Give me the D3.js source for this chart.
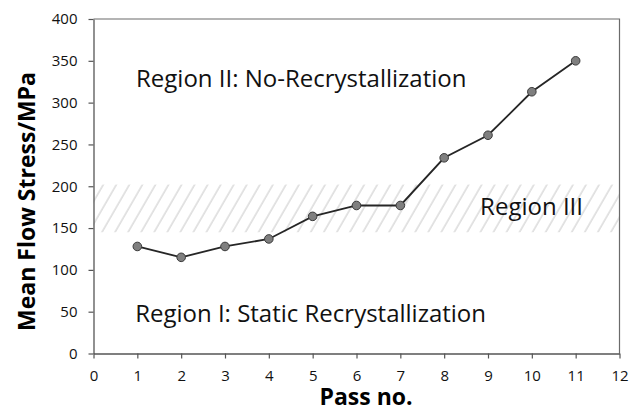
<!DOCTYPE html>
<html>
<head>
<meta charset="utf-8">
<script src="https://cdn.jsdelivr.net/npm/d3@7"></script>
<style>
  html, body { margin: 0; padding: 0; background: #fff; }
  svg text { font-family: "Open Sans", "Noto Sans", sans-serif; }
</style>
</head>
<body>
<svg id="chart" width="640" height="412"></svg>
<script>
// Mean flow stress per rolling pass
const passes = [1, 2, 3, 4, 5, 6, 7, 8, 9, 10, 11];
const stress = [128, 115, 128, 137, 164, 177, 177, 234, 261, 313, 350];

// Region III (partial recrystallization) stress band
const bandRange = [145, 202];

const xTicks = [0, 1, 2, 3, 4, 5, 6, 7, 8, 9, 10, 11, 12];
const yTicks = [0, 50, 100, 150, 200, 250, 300, 350, 400];

const regionLabels = [
  { text: "Region II: No-Recrystallization", pass: 0.97, value: 319 },
  { text: "Region III", pass: 8.82, value: 166 },
  { text: "Region I: Static Recrystallization", pass: 0.95, value: 38 }
];

const margin = { left: 93.5, right: 20.5, top: 19, bottom: 58.5 };
const W = 640, H = 412;
const svg = d3.select("#chart");

const x = d3.scaleLinear().domain([0, 12]).range([margin.left, W - margin.right]);
const y = d3.scaleLinear().domain([0, 400]).range([H - margin.bottom, margin.top]);

// diagonal hatch pattern for the band
const defs = svg.append("defs");
const pat = defs.append("pattern")
  .attr("id", "hatch")
  .attr("patternUnits", "userSpaceOnUse")
  .attr("width", 11.3).attr("height", 11.3)
  .attr("patternTransform", "rotate(30)");
pat.append("line")
  .attr("x1", 1).attr("y1", 0).attr("x2", 1).attr("y2", 11.3)
  .attr("stroke", "#cdcdcd").attr("stroke-width", 1.1);

svg.append("rect")
  .attr("x", x(0)).attr("width", x(12) - x(0))
  .attr("y", y(bandRange[1])).attr("height", y(bandRange[0]) - y(bandRange[1]))
  .attr("fill", "url(#hatch)");

// plot frame (top and right)
svg.append("path")
  .attr("d", `M${x(0)},${y(400)}H${x(12)}V${y(0)}`)
  .attr("fill", "none").attr("stroke", "#6b6b6b").attr("stroke-width", 1.2);

// axes
const xAxis = svg.append("g")
  .attr("transform", `translate(0,${y(0)})`)
  .call(d3.axisBottom(x).tickValues(xTicks).tickFormat(d3.format("d")).tickSizeInner(5).tickSizeOuter(0).tickPadding(12));
const yAxis = svg.append("g")
  .attr("transform", `translate(${x(0)},0)`)
  .call(d3.axisLeft(y).tickValues(yTicks).tickFormat(d3.format("d")).tickSizeInner(5).tickSizeOuter(0).tickPadding(11));

[xAxis, yAxis].forEach(g => {
  g.select(".domain").attr("stroke", "#555").attr("stroke-width", 1.3);
  g.selectAll(".tick line").attr("stroke", "#555").attr("stroke-width", 1.2);
  g.selectAll(".tick text").attr("fill", "#111").style("font-size", "15px");
});

// region annotations
svg.selectAll("text.region")
  .data(regionLabels)
  .join("text")
  .attr("class", "region")
  .attr("x", d => x(d.pass))
  .attr("y", d => y(d.value))
  .attr("fill", "#111")
  .style("font-size", "24px")
  .text(d => d.text);

// series line and markers
const series = passes.map((p, i) => ({ p, v: stress[i] }));
svg.append("path")
  .datum(series)
  .attr("fill", "none")
  .attr("stroke", "#262626")
  .attr("stroke-width", 1.8)
  .attr("d", d3.line().x(d => x(d.p)).y(d => y(d.v)));

svg.selectAll("circle.pt")
  .data(series)
  .join("circle")
  .attr("class", "pt")
  .attr("cx", d => x(d.p))
  .attr("cy", d => y(d.v))
  .attr("r", 4.3)
  .attr("fill", "#7f7f7f")
  .attr("stroke", "#3a3a3a")
  .attr("stroke-width", 1);

// axis titles
svg.append("text")
  .attr("x", 366)
  .attr("y", 405)
  .attr("text-anchor", "middle")
  .attr("fill", "#000")
  .style("font-size", "23px").style("font-weight", "bold")
  .text("Pass no.");

svg.append("text")
  .attr("transform", `translate(35,${(63 + 340) / 2}) rotate(-90)`)
  .attr("text-anchor", "middle")
  .attr("fill", "#000")
  .style("font-size", "23px").style("font-weight", "bold")
  .text("Mean Flow Stress/MPa");
</script>
</body>
</html>
